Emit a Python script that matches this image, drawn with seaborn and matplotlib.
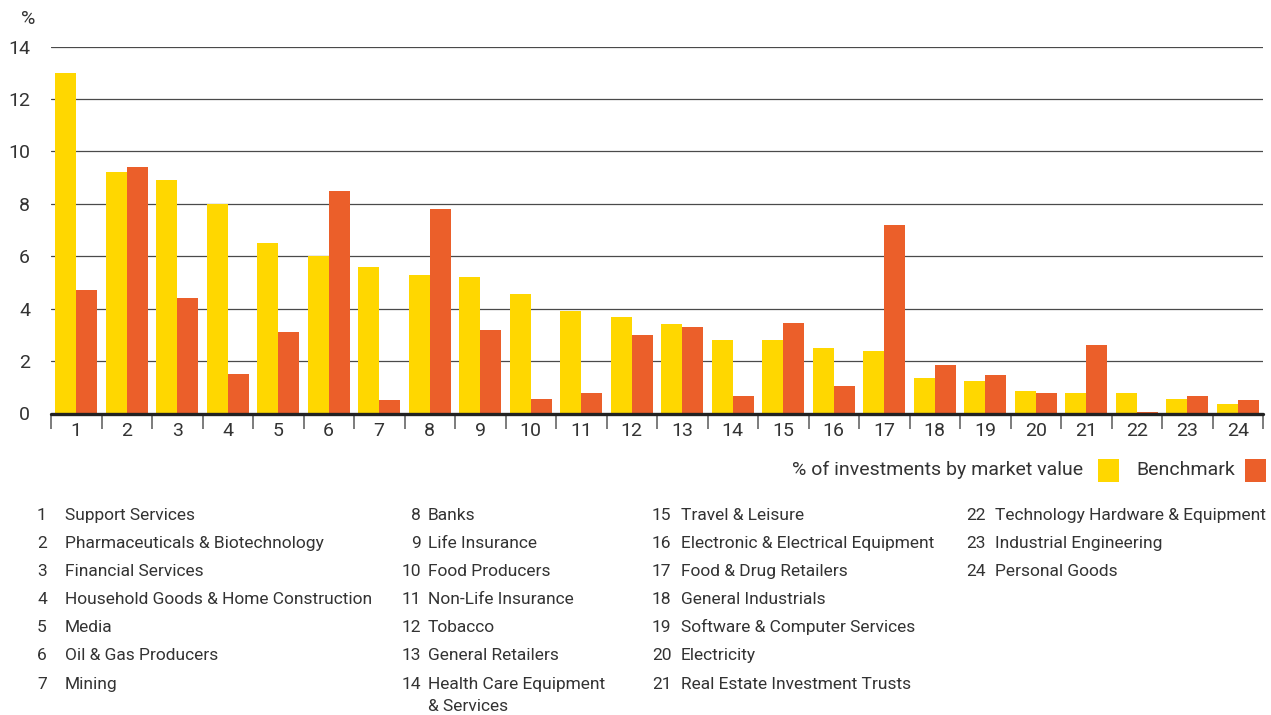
import matplotlib
matplotlib.use("Agg")
import matplotlib.pyplot as plt
import seaborn as sns
import pandas as pd
from matplotlib.patches import Rectangle

# ---------------- data ----------------
categories = [str(i) for i in range(1, 25)]
fund = [13.0, 9.2, 8.9, 8.0, 6.5, 6.0, 5.6, 5.3, 5.2, 4.55, 3.9, 3.7,
        3.4, 2.8, 2.8, 2.5, 2.4, 1.35, 1.25, 0.85, 0.8, 0.8, 0.55, 0.35]
bench = [4.7, 9.4, 4.4, 1.5, 3.1, 8.5, 0.5, 7.8, 3.2, 0.55, 0.8, 3.0,
         3.3, 0.65, 3.45, 1.05, 7.2, 1.85, 1.45, 0.8, 2.6, 0.06, 0.65, 0.5]
series = ["% of investments by market value", "Benchmark"]
colors = ["#FFD700", "#EB5F2A"]
y_ticks = [0, 2, 4, 6, 8, 10, 12, 14]
sectors = [
    "Support Services", "Pharmaceuticals & Biotechnology", "Financial Services",
    "Household Goods & Home Construction", "Media", "Oil & Gas Producers", "Mining",
    "Banks", "Life Insurance", "Food Producers", "Non-Life Insurance", "Tobacco",
    "General Retailers", "Health Care Equipment\n& Services",
    "Travel & Leisure", "Electronic & Electrical Equipment", "Food & Drug Retailers",
    "General Industrials", "Software & Computer Services", "Electricity",
    "Real Estate Investment Trusts",
    "Technology Hardware & Equipment", "Industrial Engineering", "Personal Goods",
]

df = pd.DataFrame({
    "cat": categories * 2,
    "value": fund + bench,
    "series": [series[0]] * len(categories) + [series[1]] * len(categories),
})

# ---------------- style ----------------
sns.set_theme(style="white")
plt.rcParams["font.family"] = ["Roboto", "DejaVu Sans"]
TXT = "#333333"

W, H = 1271, 715
fig = plt.figure(figsize=(W / 100, H / 100), dpi=100)
ax = fig.add_axes([51 / W, 1 - 413.5 / H, (1263 - 51) / W, (413.5 - 46.5) / H])

sns.barplot(data=df, x="cat", y="value", hue="series", palette=colors,
            order=categories, hue_order=series, width=0.83, saturation=1,
            legend=False, ax=ax, linewidth=0)

ax.set_xlim(-0.5, len(categories) - 0.5)
ax.set_ylim(0, 14)
ax.set_xlabel("")
ax.set_ylabel("")
for s in ax.spines.values():
    s.set_visible(False)

# gridlines
ax.set_yticks(y_ticks)
ax.set_yticklabels([str(t) for t in y_ticks], fontsize=14, color=TXT)
ax.tick_params(axis="y", length=0, pad=15)
ax.yaxis.grid(True, color="#4a4a4a", linewidth=0.9)
ax.set_axisbelow(True)
ax.axhline(0, color="#222222", linewidth=2.4, zorder=5, clip_on=False)

# x separators (major) and labels (minor)
ax.set_xticks([i - 0.5 for i in range(len(categories) + 1)])
ax.set_xticklabels([])
ax.set_xticks(list(range(len(categories))), minor=True)
ax.set_xticklabels(categories, minor=True, fontsize=14, color=TXT)
ax.tick_params(axis="x", which="major", length=11, width=1.2, color="#666666",
               direction="out", bottom=True)
ax.tick_params(axis="x", which="minor", length=0, pad=6, bottom=True)

fig.text(35 / W, 1 - 19 / H, "%", fontsize=14, color=TXT, ha="right", va="center")

# legend
ly = 1 - 470 / H
fig.text(1083 / W, ly, series[0], fontsize=14, color=TXT, ha="right", va="center")
fig.add_artist(Rectangle((1098 / W, 1 - 482 / H), 21 / W, 23 / H,
                         transform=fig.transFigure, color=colors[0], lw=0))
fig.text(1136 / W, ly, series[1], fontsize=14, color=TXT, ha="left", va="center")
fig.add_artist(Rectangle((1245 / W, 1 - 482 / H), 21 / W, 23 / H,
                         transform=fig.transFigure, color=colors[1], lw=0))

# footnote key
row_y = [514, 542, 570, 598, 626, 654, 683]
cols = [  # (first index, count, number x, number align, text x)
    (0, 7, 37, "left", 65),
    (7, 7, 421, "right", 428),
    (14, 7, 652, "left", 681),
    (21, 3, 966, "left", 995),
]
FS = 12.5
for start, n, nx, nal, tx in cols:
    for k in range(n):
        i = start + k
        base = row_y[k] + 6
        fig.text(nx / W, 1 - base / H, categories[i], fontsize=FS, color=TXT,
                 ha=nal, va="baseline")
        for j, line in enumerate(sectors[i].split("\n")):
            fig.text(tx / W, 1 - (base + 22 * j) / H, line, fontsize=FS, color=TXT,
                     ha="left", va="baseline")

fig.savefig("out.png", dpi=100)
